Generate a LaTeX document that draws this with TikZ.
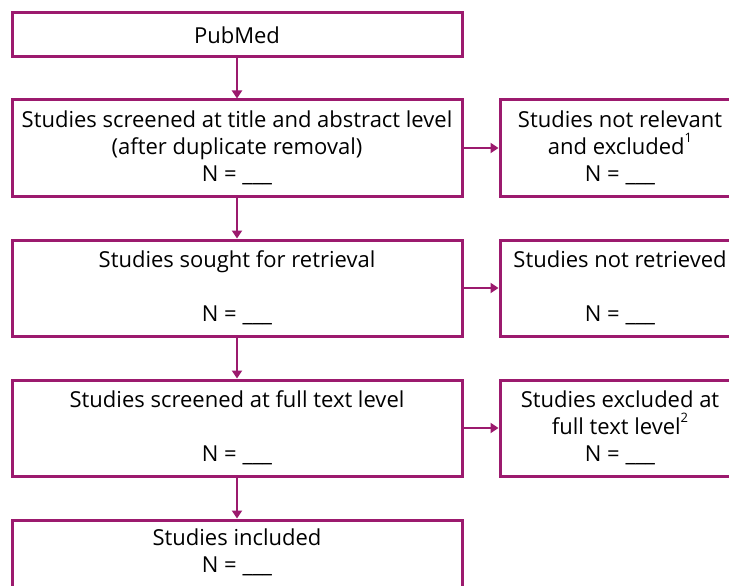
\documentclass[tikz,border=0pt]{standalone}
\usepackage{fontspec}
\setmainfont{Open Sans}
\usepackage{tikz}
\usetikzlibrary{arrows.meta}
\definecolor{prisma}{RGB}{156,26,110}
\newcommand{\supnote}[1]{\raisebox{0.55em}{\fontsize{13}{13}\selectfont #1}}

\begin{document}
\begin{tikzpicture}[x=1pt, y=-1pt,
    box/.style = {draw=prisma, line width=3pt, inner sep=0pt, align=center,
                  font=\fontsize{22}{27}\selectfont},
    leftbox/.style = {box, minimum width=450pt, minimum height=96pt},
    rightbox/.style = {box, minimum width=240pt, minimum height=96pt},
    link/.style = {draw=prisma, line width=2.6pt, -{Triangle[length=8pt,width=10pt]}}]
  \useasboundingbox (0,0) rectangle (729,586);

  \node[box, minimum width=450pt, minimum height=44pt] (pubmed) at (237,35) {PubMed};

  \node[leftbox] (screened) at (237,148) {Studies screened at title and abstract level\\(after duplicate removal)\\N = \_\_\_};
  \node[leftbox] (sought) at (237,288) {Studies sought for retrieval\\ \strut\\N = \_\_\_};
  \node[leftbox] (fulltext) at (237,428) {Studies screened at full text level\\ \strut\\N = \_\_\_};
  \node[leftbox] (included) at (237,568) {Studies included\\N = \_\_\_\\ \strut};

  \node[rightbox] (notrelevant) at (620,148) {Studies not relevant\\and excluded\supnote{1}\\N = \_\_\_};
  \node[rightbox] (notretrieved) at (620,288) {Studies not retrieved\\ \strut\\N = \_\_\_};
  \node[rightbox] (excluded) at (620,428) {Studies excluded at\\full text level\supnote{2}\\N = \_\_\_};

  \draw[link] (pubmed) -- (screened);
  \draw[link] (screened) -- (sought);
  \draw[link] (sought) -- (fulltext);
  \draw[link] (fulltext) -- (included);

  \draw[link] (screened) -- (notrelevant);
  \draw[link] (sought) -- (notretrieved);
  \draw[link] (fulltext) -- (excluded);
\end{tikzpicture}
\end{document}
